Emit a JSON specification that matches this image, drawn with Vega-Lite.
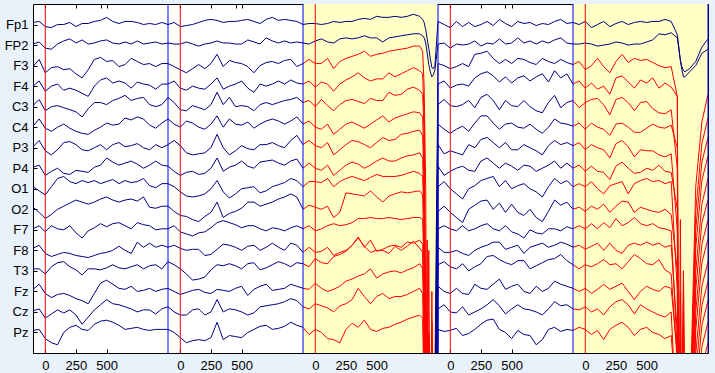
{
  "$schema": "https://vega.github.io/schema/vega-lite/v6.json",
  "width": 675,
  "height": 349,
  "autosize": {"type": "none"},
  "padding": {"left": 33, "top": 4, "right": 7, "bottom": 20},
  "background": "#e9f1fb",
  "config": {
    "view": {"stroke": "#000000", "strokeWidth": 1, "fill": "#ffffff"},
    "axis": {"labelFont": "Liberation Sans", "labelFontSize": 13, "labelColor": "#000000", "grid": false, "domain": false, "tickColor": "#000000", "title": null}
  },
  "datasets": {
    "shade": [{"t": 2200, "t2": 3300}, {"t": 4400, "t2": 5500}],
    "events": [
      {"t": 1100, "kind": "boundary"}, {"t": 2200, "kind": "boundary"}, {"t": 3300, "kind": "boundary"}, {"t": 4400, "kind": "boundary"}, {"t": 5500, "kind": "boundary"},
      {"t": 100, "kind": "stimulus"}, {"t": 1200, "kind": "stimulus"}, {"t": 2300, "kind": "stimulus"}, {"t": 3400, "kind": "stimulus"}, {"t": 4500, "kind": "stimulus"}
    ],
    "eeg": [
      {"t":0,"Fp1":2,"FP2":1,"F3":-1,"F4":0,"C3":1,"C4":1,"P3":1,"P4":1,"O1":2,"O2":2,"F7":1,"F8":2,"T3":2,"Fz":2,"Cz":1,"Pz":2},
      {"t":50,"Fp1":3,"FP2":3,"F3":6,"F4":5,"C3":7,"C4":8,"P3":7,"P4":3,"O1":-2,"O2":-3,"F7":4,"F8":5,"T3":2,"Fz":7,"Cz":3,"Pz":3},
      {"t":100,"Fp1":-2,"FP2":-3,"F3":-7,"F4":-5,"C3":-4,"C4":-1,"P3":-3,"P4":-7,"O1":-6,"O2":-9,"F7":-2,"F8":-3,"T3":-3,"Fz":-2,"Cz":-6,"Pz":-6},
      {"t":150,"Fp1":-3,"FP2":-4,"F3":-2,"F4":0,"C3":0,"C4":-4,"P3":-7,"P4":-3,"O1":2,"O2":-5,"F7":4,"F8":-6,"T3":4,"Fz":-6,"Cz":-2,"Pz":-10},
      {"t":200,"Fp1":0,"FP2":1,"F3":-1,"F4":2,"C3":1,"C4":0,"P3":-2,"P4":0,"O1":10,"O2":0,"F7":1,"F8":-4,"T3":8,"Fz":-3,"Cz":2,"Pz":-12},
      {"t":250,"Fp1":0,"FP2":4,"F3":-4,"F4":-4,"C3":-1,"C4":3,"P3":5,"P4":-5,"O1":12,"O2":3,"F7":0,"F8":-2,"T3":9,"Fz":-2,"Cz":-1,"Pz":0},
      {"t":300,"Fp1":2,"FP2":6,"F3":-3,"F4":-2,"C3":-3,"C4":-1,"P3":6,"P4":-6,"O1":7,"O2":6,"F7":4,"F8":-3,"T3":4,"Fz":-4,"Cz":2,"Pz":5},
      {"t":350,"Fp1":-2,"FP2":2,"F3":-8,"F4":-4,"C3":-5,"C4":-4,"P3":3,"P4":-2,"O1":5,"O2":9,"F7":-3,"F8":-5,"T3":1,"Fz":-7,"Cz":-3,"Pz":7},
      {"t":400,"Fp1":1,"FP2":5,"F3":-12,"F4":-7,"C3":-10,"C4":-6,"P3":-2,"P4":-3,"O1":8,"O2":7,"F7":-8,"F8":-6,"T3":-4,"Fz":-9,"Cz":-12,"Pz":3},
      {"t":450,"Fp1":1,"FP2":1,"F3":-4,"F4":-10,"C3":-2,"C4":-7,"P3":-3,"P4":-4,"O1":6,"O2":5,"F7":-1,"F8":-7,"T3":2,"Fz":-12,"Cz":-5,"Pz":2},
      {"t":500,"Fp1":3,"FP2":2,"F3":6,"F4":0,"C3":4,"C4":-3,"P3":0,"P4":1,"O1":8,"O2":7,"F7":2,"F8":-5,"T3":2,"Fz":-2,"Cz":2,"Pz":8},
      {"t":550,"Fp1":4,"FP2":4,"F3":8,"F4":6,"C3":4,"C4":0,"P3":3,"P4":3,"O1":5,"O2":10,"F7":6,"F8":-3,"T3":1,"Fz":8,"Cz":7,"Pz":11},
      {"t":600,"Fp1":7,"FP2":5,"F3":4,"F4":8,"C3":2,"C4":4,"P3":-2,"P4":10,"O1":7,"O2":12,"F7":3,"F8":-2,"T3":3,"Fz":11,"Cz":12,"Pz":12},
      {"t":650,"Fp1":3,"FP2":2,"F3":5,"F4":3,"C3":6,"C4":2,"P3":3,"P4":6,"O1":9,"O2":9,"F7":6,"F8":0,"T3":6,"Fz":7,"Cz":8,"Pz":10},
      {"t":700,"Fp1":1,"FP2":1,"F3":-1,"F4":5,"C3":8,"C4":3,"P3":5,"P4":3,"O1":5,"O2":7,"F7":7,"F8":4,"T3":3,"Fz":3,"Cz":7,"Pz":7},
      {"t":750,"Fp1":3,"FP2":3,"F3":1,"F4":3,"C3":11,"C4":9,"P3":1,"P4":5,"O1":8,"O2":9,"F7":4,"F8":0,"T3":2,"Fz":2,"Cz":5,"Pz":3},
      {"t":800,"Fp1":3,"FP2":1,"F3":7,"F4":-2,"C3":6,"C4":7,"P3":2,"P4":7,"O1":6,"O2":10,"F7":1,"F8":-3,"T3":4,"Fz":5,"Cz":3,"Pz":4},
      {"t":850,"Fp1":2,"FP2":4,"F3":4,"F4":4,"C3":8,"C4":10,"P3":4,"P4":4,"O1":7,"O2":8,"F7":7,"F8":8,"T3":6,"Fz":0,"Cz":0,"Pz":5},
      {"t":900,"Fp1":0,"FP2":1,"F3":1,"F4":2,"C3":9,"C4":8,"P3":0,"P4":0,"O1":10,"O2":12,"F7":5,"F8":3,"T3":2,"Fz":1,"Cz":2,"Pz":3},
      {"t":950,"Fp1":1,"FP2":2,"F3":2,"F4":1,"C3":2,"C4":2,"P3":-2,"P4":3,"O1":3,"O2":2,"F7":4,"F8":7,"T3":5,"Fz":3,"Cz":2,"Pz":2},
      {"t":1000,"Fp1":0,"FP2":3,"F3":-1,"F4":-3,"C3":0,"C4":-1,"P3":3,"P4":7,"O1":1,"O2":1,"F7":0,"F8":3,"T3":6,"Fz":0,"Cz":-2,"Pz":3},
      {"t":1050,"Fp1":2,"FP2":1,"F3":2,"F4":2,"C3":2,"C4":4,"P3":0,"P4":3,"O1":5,"O2":3,"F7":1,"F8":5,"T3":2,"Fz":2,"Cz":3,"Pz":3},
      {"t":1100,"Fp1":0,"FP2":2,"F3":2,"F4":2,"C3":9,"C4":8,"P3":3,"P4":2,"O1":5,"O2":3,"F7":1,"F8":3,"T3":9,"Fz":3,"Cz":5,"Pz":3},
      {"t":1150,"Fp1":2,"FP2":1,"F3":-1,"F4":5,"C3":4,"C4":3,"P3":7,"P4":-3,"O1":2,"O2":-2,"F7":4,"F8":5,"T3":6,"Fz":0,"Cz":0,"Pz":0},
      {"t":1200,"Fp1":-2,"FP2":1,"F3":-4,"F4":-2,"C3":-3,"C4":0,"P3":2,"P4":-7,"O1":-3,"O2":-6,"F7":-2,"F8":2,"T3":2,"Fz":-3,"Cz":-3,"Pz":-5},
      {"t":1250,"Fp1":-1,"FP2":3,"F3":-7,"F4":-4,"C3":-4,"C4":6,"P3":-5,"P4":-4,"O1":-7,"O2":-7,"F7":-4,"F8":0,"T3":-3,"Fz":-1,"Cz":-3,"Pz":-10},
      {"t":1300,"Fp1":0,"FP2":1,"F3":-3,"F4":0,"C3":1,"C4":4,"P3":-7,"P4":-3,"O1":-8,"O2":-10,"F7":-6,"F8":1,"T3":-9,"Fz":1,"Cz":2,"Pz":-8},
      {"t":1350,"Fp1":2,"FP2":-1,"F3":1,"F4":-2,"C3":-1,"C4":0,"P3":-6,"P4":-6,"O1":-7,"O2":-12,"F7":-3,"F8":1,"T3":-8,"Fz":2,"Cz":3,"Pz":-7},
      {"t":1400,"Fp1":4,"FP2":1,"F3":-3,"F4":-3,"C3":-3,"C4":-2,"P3":-5,"P4":-5,"O1":-5,"O2":-7,"F7":-2,"F8":-5,"T3":-6,"Fz":-1,"Cz":-3,"Pz":-8},
      {"t":1450,"Fp1":5,"FP2":2,"F3":2,"F4":2,"C3":2,"C4":3,"P3":0,"P4":0,"O1":0,"O2":-3,"F7":2,"F8":-4,"T3":1,"Fz":-2,"Cz":0,"Pz":-5},
      {"t":1500,"Fp1":4,"FP2":4,"F3":11,"F4":8,"C3":14,"C4":11,"P3":13,"P4":10,"O1":8,"O2":7,"F7":7,"F8":1,"T3":6,"Fz":2,"Cz":12,"Pz":10},
      {"t":1550,"Fp1":2,"FP2":2,"F3":-1,"F4":-3,"C3":2,"C4":0,"P3":0,"P4":-3,"O1":-3,"O2":-8,"F7":9,"F8":6,"T3":5,"Fz":1,"Cz":0,"Pz":-7},
      {"t":1600,"Fp1":3,"FP2":2,"F3":5,"F4":0,"C3":9,"C4":8,"P3":-7,"P4":1,"O1":-9,"O2":-4,"F7":7,"F8":5,"T3":7,"Fz":0,"Cz":3,"Pz":-3},
      {"t":1650,"Fp1":3,"FP2":1,"F3":3,"F4":2,"C3":0,"C4":3,"P3":-3,"P4":3,"O1":-5,"O2":-2,"F7":5,"F8":3,"T3":5,"Fz":3,"Cz":2,"Pz":-4},
      {"t":1700,"Fp1":4,"FP2":1,"F3":2,"F4":5,"C3":1,"C4":2,"P3":2,"P4":7,"O1":0,"O2":1,"F7":2,"F8":0,"T3":2,"Fz":5,"Cz":0,"Pz":-5},
      {"t":1750,"Fp1":5,"FP2":5,"F3":-1,"F4":-2,"C3":0,"C4":5,"P3":-1,"P4":2,"O1":1,"O2":7,"F7":4,"F8":4,"T3":7,"Fz":-4,"Cz":-3,"Pz":0},
      {"t":1800,"Fp1":3,"FP2":3,"F3":-7,"F4":-6,"C3":-4,"C4":-1,"P3":-2,"P4":0,"O1":2,"O2":7,"F7":4,"F8":5,"T3":8,"Fz":2,"Cz":-1,"Pz":3},
      {"t":1850,"Fp1":1,"FP2":1,"F3":0,"F4":2,"C3":2,"C4":3,"P3":3,"P4":6,"O1":-4,"O2":3,"F7":1,"F8":0,"T3":1,"Fz":5,"Cz":5,"Pz":6},
      {"t":1900,"Fp1":5,"FP2":7,"F3":3,"F4":0,"C3":4,"C4":6,"P3":3,"P4":7,"O1":-2,"O2":5,"F7":-1,"F8":3,"T3":3,"Fz":7,"Cz":6,"Pz":7},
      {"t":1950,"Fp1":7,"FP2":4,"F3":4,"F4":2,"C3":2,"C4":8,"P3":5,"P4":8,"O1":2,"O2":7,"F7":2,"F8":7,"T3":6,"Fz":1,"Cz":7,"Pz":3},
      {"t":2000,"Fp1":4,"FP2":2,"F3":2,"F4":5,"C3":4,"C4":6,"P3":2,"P4":5,"O1":4,"O2":10,"F7":1,"F8":3,"T3":9,"Fz":2,"Cz":8,"Pz":4},
      {"t":2050,"Fp1":5,"FP2":4,"F3":5,"F4":2,"C3":6,"C4":3,"P3":0,"P4":3,"O1":6,"O2":12,"F7":-1,"F8":0,"T3":7,"Fz":3,"Cz":10,"Pz":6},
      {"t":2100,"Fp1":4,"FP2":2,"F3":6,"F4":6,"C3":7,"C4":6,"P3":7,"P4":7,"O1":10,"O2":15,"F7":2,"F8":7,"T3":4,"Fz":7,"Cz":13,"Pz":10},
      {"t":2150,"Fp1":3,"FP2":3,"F3":-1,"F4":3,"C3":9,"C4":10,"P3":12,"P4":9,"O1":8,"O2":12,"F7":4,"F8":5,"T3":8,"Fz":5,"Cz":11,"Pz":7},
      {"t":2200,"Fp1":0,"FP2":2,"F3":2,"F4":2,"C3":4,"C4":3,"P3":3,"P4":0,"O1":2,"O2":0,"F7":1,"F8":-2,"T3":7,"Fz":3,"Cz":5,"Pz":5},
      {"t":2250,"Fp1":1,"FP2":1,"F3":6,"F4":5,"C3":6,"C4":6,"P3":7,"P4":5,"O1":7,"O2":4,"F7":4,"F8":3,"T3":4,"Fz":2,"Cz":3,"Pz":-2},
      {"t":2300,"Fp1":1,"FP2":4,"F3":2,"F4":-1,"C3":0,"C4":0,"P3":2,"P4":0,"O1":7,"O2":2,"F7":-1,"F8":-2,"T3":12,"Fz":8,"Cz":8,"Pz":3},
      {"t":2350,"Fp1":0,"FP2":6,"F3":2,"F4":4,"C3":7,"C4":-2,"P3":0,"P4":-2,"O1":6,"O2":0,"F7":1,"F8":-1,"T3":8,"Fz":3,"Cz":6,"Pz":0},
      {"t":2400,"Fp1":1,"FP2":3,"F3":7,"F4":2,"C3":1,"C4":3,"P3":5,"P4":3,"O1":10,"O2":3,"F7":4,"F8":3,"T3":7,"Fz":0,"Cz":4,"Pz":-6},
      {"t":2450,"Fp1":3,"FP2":2,"F3":-3,"F4":-5,"C3":-4,"C4":-7,"P3":-7,"P4":-7,"O1":2,"O2":-8,"F7":6,"F8":-5,"T3":14,"Fz":2,"Cz":0,"Pz":-7},
      {"t":2500,"Fp1":2,"FP2":6,"F3":4,"F4":2,"C3":2,"C4":-2,"P3":-2,"P4":-2,"O1":7,"O2":-3,"F7":4,"F8":-2,"T3":16,"Fz":5,"Cz":6,"Pz":-10},
      {"t":2550,"Fp1":3,"FP2":7,"F3":7,"F4":6,"C3":6,"C4":3,"P3":3,"P4":3,"O1":10,"O2":16,"F7":5,"F8":0,"T3":19,"Fz":10,"Cz":8,"Pz":3},
      {"t":2600,"Fp1":3,"FP2":6,"F3":9,"F4":9,"C3":7,"C4":5,"P3":7,"P4":6,"O1":12,"O2":15,"F7":7,"F8":5,"T3":25,"Fz":12,"Cz":12,"Pz":9},
      {"t":2650,"Fp1":5,"FP2":7,"F3":11,"F4":13,"C3":5,"C4":2,"P3":6,"P4":4,"O1":10,"O2":14,"F7":11,"F8":13,"T3":32,"Fz":15,"Cz":23,"Pz":5},
      {"t":2700,"Fp1":6,"FP2":9,"F3":14,"F4":8,"C3":3,"C4":-1,"P3":3,"P4":0,"O1":8,"O2":13,"F7":11,"F8":3,"T3":24,"Fz":17,"Cz":15,"Pz":12},
      {"t":2750,"Fp1":5,"FP2":7,"F3":9,"F4":5,"C3":8,"C4":3,"P3":0,"P4":3,"O1":11,"O2":18,"F7":12,"F8":10,"T3":18,"Fz":22,"Cz":8,"Pz":3},
      {"t":2800,"Fp1":8,"FP2":7,"F3":11,"F4":7,"C3":6,"C4":7,"P3":5,"P4":7,"O1":14,"O2":12,"F7":11,"F8":-1,"T3":20,"Fz":13,"Cz":15,"Pz":1},
      {"t":2850,"Fp1":7,"FP2":3,"F3":12,"F4":7,"C3":6,"C4":11,"P3":10,"P4":10,"O1":12,"O2":7,"F7":11,"F8":1,"T3":20,"Fz":17,"Cz":18,"Pz":4},
      {"t":2900,"Fp1":7,"FP2":7,"F3":14,"F4":13,"C3":14,"C4":5,"P3":7,"P4":7,"O1":12,"O2":13,"F7":12,"F8":4,"T3":17,"Fz":19,"Cz":13,"Pz":5},
      {"t":2950,"Fp1":8,"FP2":8,"F3":15,"F4":9,"C3":11,"C4":9,"P3":8,"P4":7,"O1":12,"O2":15,"F7":11,"F8":5,"T3":24,"Fz":20,"Cz":15,"Pz":8},
      {"t":3000,"Fp1":7,"FP2":9,"F3":16,"F4":12,"C3":12,"C4":11,"P3":13,"P4":10,"O1":13,"O2":17,"F7":10,"F8":3,"T3":20,"Fz":18,"Cz":15,"Pz":10},
      {"t":3050,"Fp1":8,"FP2":10,"F3":17,"F4":15,"C3":17,"C4":13,"P3":14,"P4":12,"O1":15,"O2":16,"F7":11,"F8":8,"T3":24,"Fz":21,"Cz":17,"Pz":13},
      {"t":3100,"Fp1":10,"FP2":11,"F3":19,"F4":18,"C3":19,"C4":15,"P3":16,"P4":13,"O1":17,"O2":17,"F7":12,"F8":7,"T3":29,"Fz":23,"Cz":20,"Pz":15},
      {"t":3150,"Fp1":8,"FP2":11,"F3":19,"F4":15,"C3":16,"C4":14,"P3":17,"P4":15,"O1":15,"O2":18,"F7":12,"F8":10,"T3":22,"Fz":27,"Cz":23,"Pz":17},
      {"t":3175,"Fp1":5,"FP2":9,"F3":14,"F4":12,"C3":12,"C4":10,"P3":12,"P4":10,"O1":12,"O2":14,"F7":10,"F8":6,"T3":18,"Fz":22,"Cz":18,"Pz":14},
      {"t":3187,"Fp1":2,"FP2":7,"F3":-20,"F4":-30,"C3":-25,"C4":-40,"P3":-35,"P4":-45,"O1":-30,"O2":-50,"F7":-40,"F8":-60,"T3":-50,"Fz":-40,"Cz":-60,"Pz":-70},
      {"t":3200,"Fp1":-5,"FP2":2,"F3":-120,"F4":-400,"C3":-200,"C4":-400,"P3":-160,"P4":-400,"O1":-250,"O2":-400,"F7":-200,"F8":-400,"T3":-250,"Fz":-400,"Cz":-300,"Pz":-400},
      {"t":3212,"Fp1":-14,"FP2":-8,"F3":-400,"F4":-150,"C3":-400,"C4":-180,"P3":-400,"P4":-200,"O1":-400,"O2":-180,"F7":-400,"F8":-150,"T3":-400,"Fz":-120,"Cz":-400,"Pz":-100},
      {"t":3225,"Fp1":-23,"FP2":-19,"F3":-180,"F4":-400,"C3":-220,"C4":-400,"P3":-250,"P4":-400,"O1":-150,"O2":-400,"F7":-130,"F8":-400,"T3":-100,"Fz":-400,"Cz":-60,"Pz":-400},
      {"t":3237,"Fp1":-33,"FP2":-26,"F3":-400,"F4":-400,"C3":-400,"C4":-400,"P3":-400,"P4":-400,"O1":-400,"O2":-400,"F7":-400,"F8":-400,"T3":-400,"Fz":-400,"Cz":-400,"Pz":-400},
      {"t":3250,"Fp1":-42,"FP2":-31,"F3":-220,"F4":-230,"C3":-240,"C4":-210,"P3":-220,"P4":-200,"O1":-180,"O2":-150,"F7":-120,"F8":-100,"T3":-80,"Fz":-60,"Cz":-40,"Pz":-30},
      {"t":3262,"Fp1":-43,"FP2":-29,"F3":-400,"F4":-400,"C3":-400,"C4":-400,"P3":-400,"P4":-400,"O1":-400,"O2":-400,"F7":-400,"F8":-400,"T3":-400,"Fz":-400,"Cz":-400,"Pz":-400},
      {"t":3275,"Fp1":-40,"FP2":-24,"F3":-300,"F4":-400,"C3":-320,"C4":-400,"P3":-350,"P4":-400,"O1":-400,"O2":-400,"F7":-400,"F8":-400,"T3":-400,"Fz":-400,"Cz":-400,"Pz":-400},
      {"t":3300,"Fp1":3,"FP2":1,"F3":2,"F4":2,"C3":2,"C4":3,"P3":3,"P4":2,"O1":2,"O2":-2,"F7":1,"F8":3,"T3":6,"Fz":5,"Cz":3,"Pz":3},
      {"t":3350,"Fp1":0,"FP2":2,"F3":0,"F4":5,"C3":7,"C4":-2,"P3":-6,"P4":-7,"O1":7,"O2":3,"F7":4,"F8":-2,"T3":9,"Fz":0,"Cz":7,"Pz":1},
      {"t":3400,"Fp1":-3,"FP2":-3,"F3":-3,"F4":-2,"C3":1,"C4":-6,"P3":-3,"P4":-3,"O1":0,"O2":-3,"F7":1,"F8":-2,"T3":4,"Fz":-2,"Cz":0,"Pz":2},
      {"t":3450,"Fp1":3,"FP2":1,"F3":-1,"F4":1,"C3":0,"C4":-2,"P3":-5,"P4":0,"O1":-5,"O2":-8,"F7":-1,"F8":0,"T3":2,"Fz":3,"Cz":-1,"Pz":4},
      {"t":3500,"Fp1":-2,"FP2":0,"F3":2,"F4":2,"C3":2,"C4":1,"P3":-7,"P4":2,"O1":-10,"O2":-13,"F7":4,"F8":-3,"T3":7,"Fz":-2,"Cz":5,"Pz":-3},
      {"t":3550,"Fp1":2,"FP2":1,"F3":-1,"F4":0,"C3":6,"C4":-4,"P3":3,"P4":-2,"O1":0,"O2":0,"F7":-1,"F8":-5,"T3":0,"Fz":-3,"Cz":-3,"Pz":-1},
      {"t":3600,"Fp1":-2,"FP2":4,"F3":11,"F4":8,"C3":-1,"C4":4,"P3":0,"P4":-3,"O1":3,"O2":4,"F7":1,"F8":0,"T3":4,"Fz":7,"Cz":0,"Pz":3},
      {"t":3650,"Fp1":0,"FP2":-1,"F3":12,"F4":12,"C3":9,"C4":11,"P3":8,"P4":7,"O1":8,"O2":8,"F7":4,"F8":3,"T3":7,"Fz":3,"Cz":3,"Pz":8},
      {"t":3700,"Fp1":3,"FP2":2,"F3":14,"F4":14,"C3":12,"C4":11,"P3":10,"P4":10,"O1":10,"O2":9,"F7":6,"F8":5,"T3":14,"Fz":2,"Cz":7,"Pz":12},
      {"t":3750,"Fp1":-1,"FP2":1,"F3":7,"F4":10,"C3":6,"C4":4,"P3":5,"P4":5,"O1":12,"O2":0,"F7":1,"F8":8,"T3":15,"Fz":7,"Cz":12,"Pz":13},
      {"t":3800,"Fp1":5,"FP2":6,"F3":2,"F4":4,"C3":-3,"C4":-2,"P3":0,"P4":0,"O1":2,"O2":6,"F7":-1,"F8":8,"T3":11,"Fz":12,"Cz":6,"Pz":3},
      {"t":3850,"Fp1":1,"FP2":1,"F3":6,"F4":9,"C3":6,"C4":3,"P3":5,"P4":5,"O1":8,"O2":-3,"F7":4,"F8":1,"T3":8,"Fz":2,"Cz":-2,"Pz":0},
      {"t":3900,"Fp1":-2,"FP2":2,"F3":2,"F4":3,"C3":1,"C4":4,"P3":-2,"P4":2,"O1":0,"O2":5,"F7":-2,"F8":3,"T3":6,"Fz":5,"Cz":3,"Pz":-6},
      {"t":3950,"Fp1":3,"FP2":7,"F3":7,"F4":8,"C3":0,"C4":0,"P3":-2,"P4":-2,"O1":3,"O2":-3,"F7":-4,"F8":5,"T3":10,"Fz":7,"Cz":7,"Pz":2},
      {"t":4000,"Fp1":1,"FP2":2,"F3":6,"F4":10,"C3":6,"C4":-1,"P3":3,"P4":3,"O1":5,"O2":-6,"F7":-8,"F8":-3,"T3":10,"Fz":0,"Cz":3,"Pz":-2},
      {"t":4050,"Fp1":2,"FP2":4,"F3":3,"F4":5,"C3":0,"C4":3,"P3":0,"P4":2,"O1":0,"O2":0,"F7":0,"F8":3,"T3":2,"Fz":-2,"Cz":2,"Pz":-3},
      {"t":4100,"Fp1":-1,"FP2":1,"F3":1,"F4":9,"C3":-4,"C4":-2,"P3":-3,"P4":-3,"O1":-3,"O2":-8,"F7":-3,"F8":5,"T3":5,"Fz":5,"Cz":0,"Pz":-12},
      {"t":4150,"Fp1":1,"FP2":4,"F3":7,"F4":12,"C3":-6,"C4":-6,"P3":-7,"P4":0,"O1":-8,"O2":-12,"F7":-4,"F8":7,"T3":8,"Fz":0,"Cz":-3,"Pz":-7},
      {"t":4200,"Fp1":0,"FP2":2,"F3":4,"F4":4,"C3":4,"C4":0,"P3":2,"P4":3,"O1":2,"O2":-2,"F7":1,"F8":3,"T3":11,"Fz":3,"Cz":3,"Pz":3},
      {"t":4250,"Fp1":3,"FP2":5,"F3":2,"F4":15,"C3":11,"C4":8,"P3":7,"P4":7,"O1":10,"O2":9,"F7":1,"F8":5,"T3":12,"Fz":10,"Cz":10,"Pz":5},
      {"t":4300,"Fp1":5,"FP2":7,"F3":6,"F4":8,"C3":-1,"C4":4,"P3":3,"P4":0,"O1":5,"O2":4,"F7":-1,"F8":8,"T3":16,"Fz":7,"Cz":6,"Pz":1},
      {"t":4350,"Fp1":1,"FP2":2,"F3":3,"F4":12,"C3":4,"C4":3,"P3":5,"P4":5,"O1":8,"O2":7,"F7":3,"F8":6,"T3":10,"Fz":5,"Cz":7,"Pz":3},
      {"t":4400,"Fp1":2,"FP2":1,"F3":1,"F4":2,"C3":6,"C4":1,"P3":2,"P4":0,"O1":2,"O2":0,"F7":1,"F8":3,"T3":6,"Fz":3,"Cz":3,"Pz":2},
      {"t":4450,"Fp1":0,"FP2":1,"F3":4,"F4":5,"C3":-1,"C4":4,"P3":5,"P4":3,"O1":5,"O2":2,"F7":4,"F8":5,"T3":2,"Fz":0,"Cz":2,"Pz":5},
      {"t":4500,"Fp1":3,"FP2":2,"F3":-4,"F4":-2,"C3":4,"C4":-2,"P3":-2,"P4":-3,"O1":2,"O2":-2,"F7":1,"F8":1,"T3":6,"Fz":3,"Cz":5,"Pz":3},
      {"t":4550,"Fp1":-3,"FP2":1,"F3":0,"F4":3,"C3":7,"C4":4,"P3":3,"P4":2,"O1":7,"O2":3,"F7":6,"F8":4,"T3":4,"Fz":-2,"Cz":0,"Pz":-2},
      {"t":4600,"Fp1":0,"FP2":-1,"F3":7,"F4":-3,"C3":8,"C4":0,"P3":0,"P4":-3,"O1":0,"O2":0,"F7":1,"F8":7,"T3":7,"Fz":2,"Cz":3,"Pz":2},
      {"t":4650,"Fp1":3,"FP2":0,"F3":-1,"F4":0,"C3":2,"C4":-2,"P3":-2,"P4":-4,"O1":-5,"O2":5,"F7":7,"F8":0,"T3":11,"Fz":7,"Cz":-3,"Pz":-7},
      {"t":4700,"Fp1":-2,"FP2":1,"F3":-7,"F4":-8,"C3":-8,"C4":-8,"P3":-10,"P4":-11,"O1":3,"O2":-3,"F7":2,"F8":7,"T3":6,"Fz":2,"Cz":5,"Pz":3},
      {"t":4750,"Fp1":1,"FP2":3,"F3":4,"F4":8,"C3":7,"C4":3,"P3":4,"P4":2,"O1":5,"O2":3,"F7":11,"F8":0,"T3":7,"Fz":5,"Cz":10,"Pz":7},
      {"t":4800,"Fp1":3,"FP2":2,"F3":11,"F4":10,"C3":9,"C4":4,"P3":7,"P4":6,"O1":7,"O2":8,"F7":4,"F8":-3,"T3":2,"Fz":8,"Cz":12,"Pz":10},
      {"t":4850,"Fp1":0,"FP2":0,"F3":3,"F4":4,"C3":4,"C4":0,"P3":1,"P4":0,"O1":-5,"O2":7,"F7":7,"F8":5,"T3":9,"Fz":0,"Cz":7,"Pz":5},
      {"t":4900,"Fp1":2,"FP2":1,"F3":7,"F4":-2,"C3":-4,"C4":-5,"P3":-9,"P4":-5,"O1":5,"O2":-3,"F7":12,"F8":7,"T3":16,"Fz":-8,"Cz":-2,"Pz":-3},
      {"t":4950,"Fp1":3,"FP2":1,"F3":5,"F4":6,"C3":4,"C4":-5,"P3":-2,"P4":-4,"O1":8,"O2":2,"F7":6,"F8":5,"T3":12,"Fz":0,"Cz":7,"Pz":3},
      {"t":5000,"Fp1":2,"FP2":3,"F3":6,"F4":3,"C3":5,"C4":-1,"P3":-3,"P4":0,"O1":10,"O2":0,"F7":4,"F8":8,"T3":7,"Fz":5,"Cz":3,"Pz":5},
      {"t":5050,"Fp1":3,"FP2":5,"F3":3,"F4":8,"C3":-2,"C4":3,"P3":-3,"P4":-2,"O1":7,"O2":-2,"F7":6,"F8":5,"T3":6,"Fz":2,"Cz":0,"Pz":0},
      {"t":5100,"Fp1":3,"FP2":11,"F3":0,"F4":-2,"C3":-6,"C4":0,"P3":-7,"P4":3,"O1":8,"O2":-3,"F7":2,"F8":7,"T3":11,"Fz":0,"Cz":-3,"Pz":-2},
      {"t":5150,"Fp1":5,"FP2":10,"F3":-2,"F4":3,"C3":-7,"C4":-1,"P3":-9,"P4":-3,"O1":5,"O2":0,"F7":1,"F8":3,"T3":1,"Fz":5,"Cz":-5,"Pz":-6},
      {"t":5200,"Fp1":3,"FP2":12,"F3":-1,"F4":-1,"C3":-3,"C4":2,"P3":-6,"P4":-4,"O1":7,"O2":-5,"F7":-1,"F8":5,"T3":-3,"Fz":3,"Cz":0,"Pz":-3},
      {"t":5250,"Fp1":-10,"FP2":7,"F3":-30,"F4":-10,"C3":-60,"C4":-20,"P3":-80,"P4":-40,"O1":-100,"O2":-60,"F7":-120,"F8":-80,"T3":-90,"Fz":-60,"Cz":-120,"Pz":-80},
      {"t":5262,"Fp1":-22,"FP2":-3,"F3":-400,"F4":-400,"C3":-400,"C4":-400,"P3":-400,"P4":-400,"O1":-400,"O2":-400,"F7":-400,"F8":-400,"T3":-400,"Fz":-400,"Cz":-400,"Pz":-400},
      {"t":5275,"Fp1":-35,"FP2":-15,"F3":-150,"F4":-250,"C3":-180,"C4":-300,"P3":-200,"P4":-260,"O1":-150,"O2":-200,"F7":-120,"F8":-140,"T3":-100,"Fz":-90,"Cz":-70,"Pz":-50},
      {"t":5287,"Fp1":-41,"FP2":-24,"F3":-400,"F4":-400,"C3":-400,"C4":-400,"P3":-400,"P4":-400,"O1":-400,"O2":-400,"F7":-400,"F8":-400,"T3":-400,"Fz":-400,"Cz":-400,"Pz":-400},
      {"t":5300,"Fp1":-45,"FP2":-31,"F3":-200,"F4":-180,"C3":-190,"C4":-170,"P3":-160,"P4":-150,"O1":-140,"O2":-130,"F7":-120,"F8":-110,"T3":-100,"Fz":-80,"Cz":-60,"Pz":-40},
      {"t":5312,"Fp1":-46,"FP2":-31,"F3":-400,"F4":-400,"C3":-400,"C4":-400,"P3":-400,"P4":-400,"O1":-400,"O2":-400,"F7":-400,"F8":-400,"T3":-400,"Fz":-400,"Cz":-400,"Pz":-400},
      {"t":5350,"Fp1":-43,"FP2":-26,"F3":-350,"F4":-350,"C3":-350,"C4":-350,"P3":-350,"P4":-350,"O1":-350,"O2":-350,"F7":-350,"F8":-350,"T3":-350,"Fz":-350,"Cz":-350,"Pz":-350},
      {"t":5400,"Fp1":-36,"FP2":-20,"F3":-118,"F4":-122,"C3":-120,"C4":-118,"P3":-121,"P4":-119,"O1":-120,"O2":-118,"F7":-121,"F8":-120,"T3":-119,"Fz":-120,"Cz":-120,"Pz":-120},
      {"t":5450,"Fp1":-22,"FP2":-8,"F3":-55,"F4":-56,"C3":-54,"C4":-52,"P3":-55,"P4":-53,"O1":-54,"O2":-52,"F7":-55,"F8":-54,"T3":-53,"Fz":-54,"Cz":-54,"Pz":-54},
      {"t":5500,"Fp1":-14,"FP2":-4,"F3":-28,"F4":-31,"C3":-30,"C4":-28,"P3":-30,"P4":-31,"O1":-30,"O2":-29,"F7":-31,"F8":-30,"T3":-29,"Fz":-30,"Cz":-30,"Pz":-30}
    ]
  },
  "encoding": {
    "x": {
      "field": "t",
      "type": "quantitative",
      "scale": {"domain": [0, 5500], "nice": false, "zero": false},
      "axis": {
        "orient": "bottom",
        "values": [100, 350, 600, 1200, 1450, 1700, 2300, 2550, 2800, 3400, 3650, 3900, 4500, 4750, 5000],
        "labelExpr": "'' + (datum.value % 1100 - 100)",
        "tickSize": -4,
        "labelPadding": 10
      }
    }
  },
  "layer": [
    {
      "data": {"name": "shade"},
      "mark": {"type": "rect", "color": "#ffffc6"},
      "encoding": {
        "x": {"field": "t", "type": "quantitative", "scale": {"domain": [0, 5500], "nice": false, "zero": false}, "axis": null},
        "x2": {"field": "t2"}
      }
    },
    {
      "data": {"name": "eeg"},
      "transform": [
        {"fold": ["Fp1", "FP2", "F3", "F4", "C3", "C4", "P3", "P4", "O1", "O2", "F7", "F8", "T3", "Fz", "Cz", "Pz"], "as": ["ch", "v"]},
        {"calculate": "datum.v - 20 * indexof(['Fp1','FP2','F3','F4','C3','C4','P3','P4','O1','O2','F7','F8','T3','Fz','Cz','Pz'], datum.ch)", "as": "y"}
      ],
      "encoding": {"detail": {"field": "ch"}},
      "layer": [
        {
          "transform": [{"filter": "datum.ch == 'Fp1' || datum.ch == 'FP2'"}],
          "mark": {"type": "line", "color": "#000080", "strokeWidth": 1, "clip": true},
          "encoding": {
            "y": {
              "field": "y", "type": "quantitative",
              "scale": {"domain": [-320, 20], "nice": false, "zero": false},
              "axis": {
                "orient": "left",
                "values": [0, -20, -40, -60, -80, -100, -120, -140, -160, -180, -200, -220, -240, -260, -280, -300],
                "labelExpr": "['Fp1','FP2','F3','F4','C3','C4','P3','P4','O1','O2','F7','F8','T3','Fz','Cz','Pz'][round(-datum.value / 20)]",
                "tickSize": -4,
                "labelPadding": 9
              }
            }
          }
        },
        {
          "transform": [{"filter": "datum.ch != 'Fp1' && datum.ch != 'FP2' && datum.t <= 2200"}],
          "mark": {"type": "line", "color": "#000080", "strokeWidth": 1, "clip": true},
          "encoding": {
            "y": {
              "field": "y", "type": "quantitative",
              "scale": {"domain": [-320, 20], "nice": false, "zero": false},
              "axis": {
                "orient": "right",
                "values": [0, -20, -40, -60, -80, -100, -120, -140, -160, -180, -200, -220, -240, -260, -280, -300],
                "labels": false,
                "tickSize": -4
              }
            }
          }
        },
        {
          "transform": [{"filter": "datum.ch != 'Fp1' && datum.ch != 'FP2' && datum.t >= 3275 && datum.t <= 4400"}],
          "mark": {"type": "line", "color": "#000080", "strokeWidth": 1, "clip": true},
          "encoding": {"y": {"field": "y", "type": "quantitative", "scale": {"domain": [-320, 20], "nice": false, "zero": false}, "axis": null}}
        },
        {
          "transform": [{"filter": "datum.ch != 'Fp1' && datum.ch != 'FP2' && datum.t >= 2200 && datum.t <= 3275"}],
          "mark": {"type": "line", "color": "#ff0000", "strokeWidth": 1, "clip": true},
          "encoding": {"y": {"field": "y", "type": "quantitative", "scale": {"domain": [-320, 20], "nice": false, "zero": false}, "axis": null}}
        },
        {
          "transform": [{"filter": "datum.ch != 'Fp1' && datum.ch != 'FP2' && datum.t >= 4400"}],
          "mark": {"type": "line", "color": "#ff0000", "strokeWidth": 1, "clip": true},
          "encoding": {"y": {"field": "y", "type": "quantitative", "scale": {"domain": [-320, 20], "nice": false, "zero": false}, "axis": null}}
        }
      ]
    },
    {
      "data": {"name": "events"},
      "mark": {"type": "rule", "strokeWidth": 1},
      "encoding": {
        "x": {
          "field": "t", "type": "quantitative",
          "scale": {"domain": [0, 5500], "nice": false, "zero": false},
          "axis": {
            "orient": "top",
            "values": [100, 350, 550, 600, 1200, 1450, 1650, 1700, 2300, 2550, 2750, 2800, 3400, 3650, 3850, 3900, 4500, 4750, 4950, 5000],
            "labels": false,
            "tickSize": -4
          }
        },
        "color": {"field": "kind", "type": "nominal", "scale": {"domain": ["boundary", "stimulus"], "range": ["#0000ff", "#ff0000"]}, "legend": null}
      }
    }
  ]
}
